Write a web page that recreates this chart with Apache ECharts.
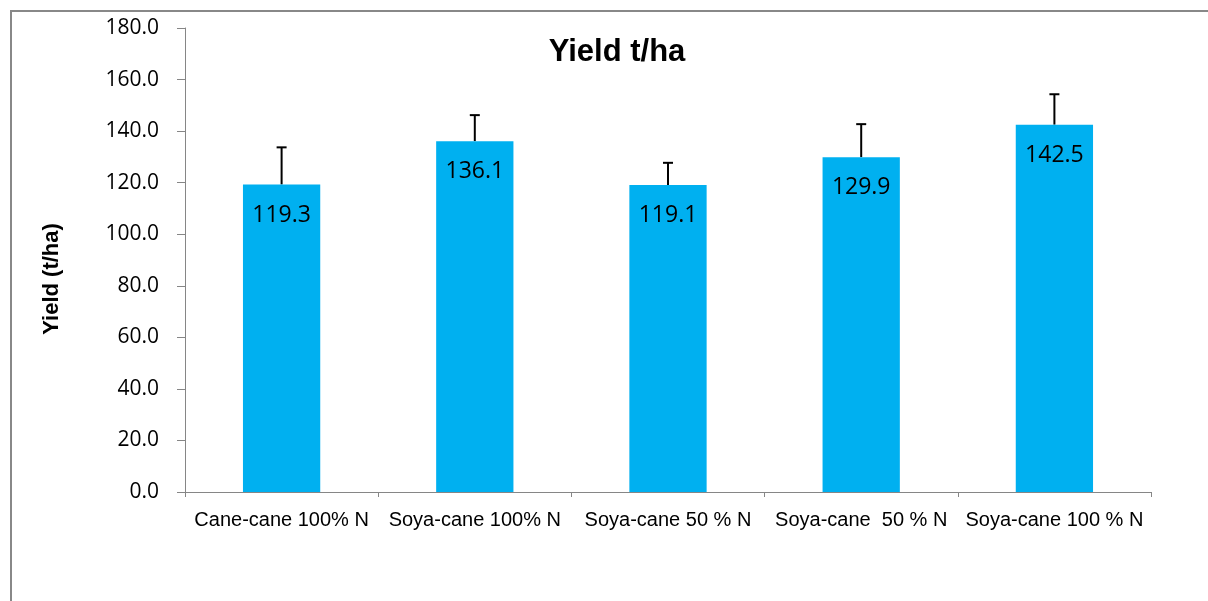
<!DOCTYPE html>
<html><head><meta charset="utf-8">
<script src="https://cdn.jsdelivr.net/npm/echarts@6/dist/echarts.min.js"></script>
<style>html,body{margin:0;padding:0;background:#fff}#c{width:1208px;height:601px}</style>
</head><body><div id="c"></div>
<script>
const categories = ['Cane-cane 100% N', 'Soya-cane 100% N', 'Soya-cane 50 % N', 'Soya-cane  50 % N', 'Soya-cane 100 % N'];
const yieldValues = [119.3, 136.1, 119.1, 129.9, 142.5];
const errorPlus = [14.4, 10.1, 8.6, 12.8, 11.8];
const yTicks = [0, 20, 40, 60, 80, 100, 120, 140, 160, 180];

const chart = echarts.init(document.getElementById('c'), null, {renderer: 'canvas'});
const errData = yieldValues.map((v, i) => [i, v, v + errorPlus[i]]);
chart.setOption({
  animation: false,
  backgroundColor: '#fff',
  title: {
    text: 'Yield t/ha', left: 612, top: 32, textAlign: 'center',
    textStyle: {fontFamily: 'Liberation Sans', fontWeight: 'bold', fontSize: 31, color: '#000'}
  },
  graphic: [{
    type: 'rect', shape: {x: 11, y: 11, width: 1300, height: 700},
    style: {fill: 'none', stroke: '#888', lineWidth: 2}, z: -1
  }],
  grid: {left: 185, right: 57, top: 28, bottom: 109},
  xAxis: {
    type: 'category', data: categories,
    axisLine: {lineStyle: {color: '#868686', width: 1}},
    axisTick: {show: true, length: 5, lineStyle: {color: '#868686'}},
    axisLabel: {color: '#000', fontFamily: 'Liberation Sans', fontSize: 20, margin: 18, interval: 0}
  },
  yAxis: {
    type: 'value', min: yTicks[0], max: yTicks[yTicks.length - 1], interval: 20,
    name: 'Yield (t/ha)', nameLocation: 'middle', nameGap: 122, nameRotate: 90,
    nameTextStyle: {fontFamily: 'Liberation Sans', fontWeight: 'bold', fontSize: 22, color: '#000', padding: [0, 0, 0, -38]},
    axisLine: {show: true, lineStyle: {color: '#868686', width: 1}},
    axisTick: {show: true, length: 8, lineStyle: {color: '#868686'}},
    splitLine: {show: false},
    axisLabel: {color: '#000', fontFamily: 'Open Sans', fontSize: 21, margin: 26, padding: [4, 0, 0, 0], formatter: v => v.toFixed(1)}
  },
  series: [{
    type: 'bar', data: yieldValues, barWidth: '40%',
    itemStyle: {color: '#00B0F0'},
    label: {show: true, position: 'insideTop', distance: 19, color: '#000', fontFamily: 'Open Sans', fontSize: 23,
      formatter: p => p.value.toFixed(1)}
  }, {
    type: 'custom', data: errData, z: 1,
    renderItem: function (params, api) {
      const x = api.value(0);
      const lo = api.coord([x, api.value(1)]);
      const hi = api.coord([x, api.value(2)]);
      const w = 5;
      return {
        type: 'group', children: [
          {type: 'line', shape: {x1: lo[0], y1: lo[1], x2: hi[0], y2: hi[1]}, style: {stroke: '#000', lineWidth: 2}},
          {type: 'line', shape: {x1: hi[0] - w, y1: hi[1], x2: hi[0] + w, y2: hi[1]}, style: {stroke: '#000', lineWidth: 2}}
        ]
      };
    }
  }]
});
</script></body></html>
